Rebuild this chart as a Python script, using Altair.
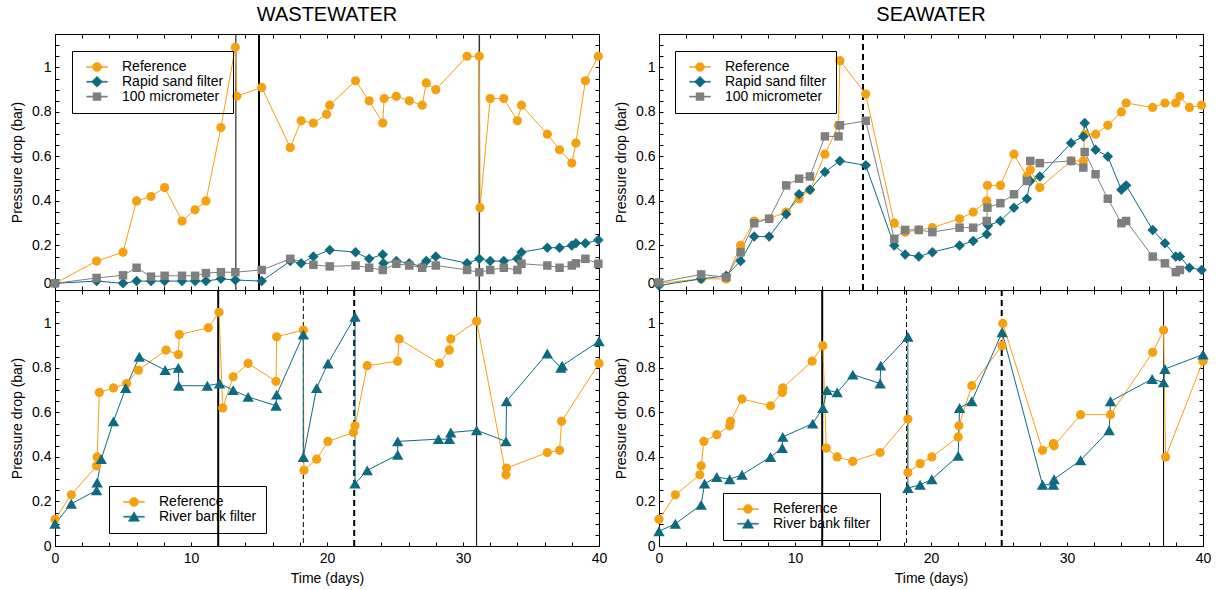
import altair as alt
import pandas as pd

# ---------------- data ----------------
# WASTEWATER - top panel
ww_top_ref_day = [0, 3.06, 5.0, 6.0, 7.06, 8.06, 9.34, 10.3, 11.1, 12.2, 13.26, 13.36, 15.2, 17.3, 18.1, 19.0, 19.97, 20.2, 22.1, 23.1,
                  24.1, 24.2, 25.1, 26.05, 27.0, 27.3, 28.0, 30.3, 31.2, 31.25, 32.0, 33.0, 34.0, 34.3, 36.2, 37.1, 38.0, 38.3, 39.0, 39.95]
ww_top_ref_val = [0.03, 0.13, 0.17, 0.40, 0.42, 0.46, 0.31, 0.36, 0.40, 0.73, 1.09, 0.87, 0.91, 0.64, 0.76, 0.75, 0.79, 0.83, 0.94, 0.85,
                  0.75, 0.86, 0.87, 0.85, 0.83, 0.93, 0.90, 1.05, 1.05, 0.37, 0.86, 0.86, 0.76, 0.83, 0.70, 0.63, 0.57, 0.66, 0.94, 1.05]
ww_top_rsf_day = [0, 3.06, 5.0, 6.0, 7.06, 8.06, 9.34, 10.3, 11.1, 12.2, 13.26, 15.2, 17.3, 18.1, 19.0, 20.2, 22.1, 23.1, 24.1, 24.15,
                  25.1, 26.05, 27.0, 27.3, 28.0, 30.3, 31.2, 32.0, 33.0, 34.0, 34.3, 36.2, 37.1, 38.0, 38.3, 39.0, 39.95]
ww_top_rsf_val = [0.03, 0.04, 0.03, 0.04, 0.04, 0.04, 0.04, 0.04, 0.04, 0.05, 0.045, 0.04, 0.13, 0.12, 0.15, 0.18, 0.17, 0.14, 0.16, 0.12,
                  0.13, 0.12, 0.105, 0.13, 0.15, 0.12, 0.14, 0.13, 0.13, 0.14, 0.17, 0.19, 0.19, 0.20, 0.21, 0.21, 0.225]
ww_top_um_day = [0, 3.06, 5.0, 6.0, 7.06, 8.06, 9.34, 10.3, 11.1, 12.2, 13.26, 15.2, 17.3, 19.0, 20.2, 22.1, 23.1, 24.1, 25.1, 26.05,
                 27.0, 28.0, 30.3, 31.2, 32.0, 33.0, 34.0, 34.3, 36.2, 37.1, 38.0, 38.3, 39.0, 39.95]
ww_top_um_val = [0.03, 0.054, 0.066, 0.10, 0.06, 0.064, 0.064, 0.064, 0.076, 0.08, 0.08, 0.09, 0.14, 0.113, 0.106, 0.11, 0.10, 0.09, 0.118, 0.11,
                 0.10, 0.11, 0.09, 0.08, 0.09, 0.10, 0.09, 0.118, 0.11, 0.10, 0.11, 0.12, 0.14, 0.118]
ww_top_events_thin = [13.3]
ww_top_events_thick = [15.0]
ww_top_events_mid = [31.2]

# SEAWATER - top panel
sw_top_ref_day = [0, 3.1, 4.94, 6.0, 7.0, 8.1, 9.35, 10.3, 11.1, 12.2, 13.2, 13.3, 15.2, 17.3, 18.1, 19.1, 20.1, 22.1, 23.1, 24.1,
                  24.15, 25.1, 26.1, 27.05, 27.3, 28.0, 30.3, 31.2, 31.3, 32.1, 33.0, 34.0, 34.35, 36.3, 37.2, 38.0, 38.3, 39.0, 39.9]
sw_top_ref_val = [0.03, 0.05, 0.05, 0.20, 0.31, 0.32, 0.35, 0.41, 0.45, 0.61, 0.74, 1.03, 0.88, 0.30, 0.26, 0.27, 0.28, 0.32, 0.35, 0.40,
                  0.47, 0.47, 0.61, 0.51, 0.54, 0.46, 0.58, 0.58, 0.70, 0.70, 0.74, 0.80, 0.84, 0.82, 0.84, 0.84, 0.87, 0.82, 0.83]
sw_top_rsf_day = [0, 3.1, 4.94, 6.0, 7.0, 8.1, 9.35, 10.3, 11.1, 12.2, 13.3, 15.2, 17.3, 18.1, 19.1, 20.1, 22.1, 23.1, 24.1, 24.2,
                  25.1, 26.1, 27.05, 27.3, 28.0, 30.3, 31.2, 31.3, 32.1, 33.0, 34.0, 34.35, 36.3, 37.2, 38.0, 38.3, 39.0, 39.9]
sw_top_rsf_val = [0.02, 0.05, 0.064, 0.13, 0.24, 0.24, 0.34, 0.43, 0.45, 0.53, 0.58, 0.56, 0.20, 0.16, 0.15, 0.17, 0.20, 0.22, 0.25, 0.29,
                  0.31, 0.37, 0.41, 0.49, 0.51, 0.66, 0.69, 0.75, 0.63, 0.60, 0.45, 0.47, 0.27, 0.21, 0.15, 0.15, 0.10, 0.09]
sw_top_um_day = [0, 3.1, 4.94, 6.0, 7.0, 8.1, 9.35, 10.3, 11.1, 12.2, 13.2, 13.3, 15.2, 17.3, 18.1, 19.1, 20.1, 22.1, 23.1, 24.1,
                 24.15, 25.1, 26.1, 27.05, 27.3, 28.0, 30.3, 31.2, 31.3, 32.1, 33.0, 34.0, 34.35, 36.3, 37.2, 38.0, 38.3]
sw_top_um_val = [0.034, 0.07, 0.057, 0.17, 0.30, 0.32, 0.47, 0.50, 0.51, 0.69, 0.69, 0.74, 0.76, 0.23, 0.27, 0.27, 0.26, 0.28, 0.28, 0.31,
                 0.37, 0.39, 0.43, 0.49, 0.58, 0.57, 0.58, 0.55, 0.62, 0.52, 0.41, 0.30, 0.31, 0.15, 0.12, 0.08, 0.09]
sw_top_events_thick_dashed = [15.0]

# WASTEWATER - bottom panel
ww_bot_ref_day = [0, 1.2, 3.06, 3.1, 3.26, 4.3, 5.27, 6.13, 8.16, 9.07, 9.14, 11.27, 12.06, 12.33, 13.1, 14.2, 16.25, 16.3, 18.26, 18.3,
                  19.24, 20.07, 21.94, 22.06, 22.96, 25.2, 25.3, 28.26, 29.0, 29.1, 31.0, 33.16, 33.2, 36.2, 37.1, 37.25, 40.0]
ww_bot_ref_val = [0.12, 0.23, 0.36, 0.40, 0.69, 0.71, 0.73, 0.79, 0.88, 0.86, 0.95, 0.98, 1.05, 0.62, 0.76, 0.82, 0.74, 0.94, 0.97, 0.34,
                  0.39, 0.47, 0.51, 0.54, 0.81, 0.83, 0.93, 0.82, 0.88, 0.93, 1.01, 0.32, 0.35, 0.42, 0.43, 0.56, 0.82]
ww_bot_rbf_day = [0, 1.2, 3.06, 3.1, 3.4, 4.3, 5.2, 6.2, 8.1, 9.07, 9.1, 11.2, 12.1, 13.1, 14.2, 16.25, 16.3, 18.26, 18.26, 19.24,
                  20.07, 22.06, 22.06, 22.96, 25.2, 25.2, 28.2, 29.0, 29.1, 31.0, 33.16, 33.2, 36.2, 37.2, 37.3, 40.0]
ww_bot_rbf_val = [0.10, 0.19, 0.25, 0.285, 0.39, 0.56, 0.71, 0.85, 0.79, 0.80, 0.72, 0.72, 0.73, 0.70, 0.67, 0.63, 0.68, 0.95, 0.40, 0.71,
                  0.82, 1.03, 0.28, 0.34, 0.41, 0.47, 0.48, 0.48, 0.51, 0.52, 0.47, 0.65, 0.865, 0.80, 0.81, 0.92]
ww_bot_events_thick = [12.0]
ww_bot_events_thin_dashed = [18.26]
ww_bot_events_thick_dashed = [22.0]
ww_bot_events_thin = [31.0]

# SEAWATER - bottom panel
sw_bot_ref_day = [0, 1.2, 3.0, 3.1, 3.3, 4.25, 5.2, 5.26, 6.1, 8.2, 9.06, 9.1, 11.26, 12.05, 12.3, 13.1, 14.25, 16.26, 18.3, 18.3,
                  19.2, 20.06, 22.0, 22.05, 23.0, 25.23, 25.28, 28.2, 29.0, 29.05, 31.0, 33.2, 36.3, 37.1, 37.25, 40.0]
sw_bot_ref_val = [0.12, 0.23, 0.32, 0.36, 0.47, 0.50, 0.54, 0.56, 0.66, 0.63, 0.69, 0.71, 0.83, 0.90, 0.44, 0.40, 0.38, 0.42, 0.57, 0.33,
                  0.37, 0.40, 0.49, 0.54, 0.72, 0.90, 1.00, 0.43, 0.46, 0.45, 0.59, 0.59, 0.87, 0.97, 0.40, 0.83]
sw_bot_rbf_day = [0, 1.2, 3.1, 3.35, 4.25, 5.2, 6.1, 8.2, 9.06, 9.1, 11.3, 12.05, 12.35, 13.1, 14.25, 16.26, 16.3, 18.3, 18.3, 19.2,
                  20.06, 22.0, 22.1, 23.0, 25.23, 28.2, 29.0, 29.05, 31.0, 33.1, 33.2, 36.26, 37.1, 37.2, 40.0]
sw_bot_rbf_val = [0.066, 0.10, 0.185, 0.28, 0.31, 0.30, 0.32, 0.40, 0.44, 0.49, 0.55, 0.62, 0.70, 0.69, 0.77, 0.73, 0.81, 0.94, 0.26, 0.275,
                  0.30, 0.405, 0.62, 0.65, 0.96, 0.275, 0.275, 0.30, 0.385, 0.52, 0.65, 0.75, 0.735, 0.795, 0.86]
sw_bot_events_thick = [12.0]
sw_bot_events_thin_dashed = [18.2]
sw_bot_events_thick_dashed = [25.2]
sw_bot_events_thin = [37.1]

x_ticks = list(range(0, 41, 2))
y_ticks = [round(i * 0.05, 2) for i in range(24)]

# ---------------- styling ----------------
FONT = "Liberation Sans"
ORANGE = "#F5A00F"
TEAL = "#0E6A80"
GRAY = "#7F7F7F"
COLORS = {"Reference": ORANGE, "Rapid sand filter": TEAL, "100 micrometer": GRAY, "River bank filter": TEAL}
SHAPES = {"Reference": "circle", "Rapid sand filter": "diamond", "100 micrometer": "square", "River bank filter": "triangle-up"}
SIZES = {"Reference": 85, "Rapid sand filter": 110, "100 micrometer": 72, "River bank filter": 130}
# legend glyphs: a thin horizontal bar (the line) plus the marker, all wound clockwise
BAR = "M-2.3,-0.12L2.3,-0.12L2.3,0.12L-2.3,0.12Z"
LEG_PATHS = {
    "Reference": BAR + "M1,0A1,1,0,1,1,-1,0A1,1,0,1,1,1,0Z",
    "Rapid sand filter": BAR + "M0,-1.22L1.22,0L0,1.22L-1.22,0Z",
    "100 micrometer": BAR + "M-0.88,-0.88L0.88,-0.88L0.88,0.88L-0.88,0.88Z",
    "River bank filter": BAR + "M0,-1.1L1.25,1.0L-1.25,1.0Z",
}
TICK = {"expr": "-4"}
W, H = 544, 256


def ternary(names, mapping):
    expr = "'" + mapping[names[-1]] + "'"
    for n in reversed(names[:-1]):
        expr = "datum.value === '" + n + "' ? '" + mapping[n] + "' : (" + expr + ")"
    return expr


def x_axis_main(labels):
    kw = dict(orient="bottom", values=x_ticks, tickSize=TICK, tickColor="black", tickWidth=1,
              domain=False, grid=False, labels=labels)
    if labels:
        kw.update(labelExpr="datum.value % 10 === 0 ? format(datum.value, 'd') : ''",
                  labelPadding=9, labelFont=FONT, labelFontSize=14, labelColor="black",
                  labelFlush=False, labelOverlap=False,
                  title="Time (days)", titleFont=FONT, titleFontSize=14,
                  titleFontWeight="normal", titleColor="black", titlePadding=6)
    else:
        kw.update(title=None)
    return alt.Axis(**kw)


def y_axis_main(flush):
    return alt.Axis(orient="left", values=y_ticks, tickSize=TICK, tickColor="black", tickWidth=1,
                    domain=False, grid=False,
                    labelExpr="abs(datum.value*5 - round(datum.value*5)) < 1e-6 ? format(datum.value, '.1~f') : ''",
                    labelPadding=8, labelFont=FONT, labelFontSize=14, labelColor="black",
                    labelFlush=flush, labelOverlap=False,
                    title="Pressure drop (bar)", titleFont=FONT, titleFontSize=14,
                    titleFontWeight="normal", titleColor="black", titlePadding=7)


x_axis_top = alt.Axis(orient="top", values=x_ticks, tickSize=TICK, tickColor="black", domain=False,
                      grid=False, labels=False, title=None)
y_axis_right = alt.Axis(orient="right", values=y_ticks, tickSize=TICK, tickColor="black", domain=False,
                        grid=False, labels=False, title=None)

X_SCALE = alt.Scale(domain=[0, 40], nice=False, zero=False)
Y_SCALE = alt.Scale(domain=[0, 1.15], nice=False, zero=False)


def panel(series, events, legend_xy, bottom, title=None):
    frames = []
    for name, d, v in series:
        frames.append(pd.DataFrame({"day": d, "value": v, "series": name, "i": list(range(len(d)))}))
    df = pd.concat(frames, ignore_index=True)
    names = [s[0] for s in series]

    col_expr = ternary(names, COLORS)
    shape_expr = ternary(names, LEG_PATHS)
    legend = alt.Legend(orient="none", legendX=legend_xy[0], legendY=legend_xy[1], title=None,
                        direction="vertical", strokeColor="black", padding=9,
                        labelFont=FONT, labelFontSize=14, labelColor="black",
                        symbolSize=81, symbolOffset=9, labelOffset=18, rowPadding=0.8,
                        symbolType={"expr": shape_expr},
                        symbolFillColor={"expr": col_expr},
                        symbolStrokeColor={"expr": col_expr},
                        symbolStrokeWidth=0.5, symbolOpacity=1)
    color = alt.Color("series:N", scale=alt.Scale(domain=names, range=[COLORS[n] for n in names]), legend=legend)

    base = alt.Chart(df)
    lines = base.mark_line(strokeWidth=1).encode(
        x=alt.X("day:Q", scale=X_SCALE, axis=x_axis_main(bottom)),
        y=alt.Y("value:Q", scale=Y_SCALE, axis=y_axis_main(not bottom)),
        color=color,
        order=alt.Order("i:Q"),
    )

    point_layers = []
    for k, n in enumerate(names):
        axis_x = x_axis_top if k == 0 else None
        axis_y = y_axis_right if k == 0 else None
        point_layers.append(
            base.transform_filter(alt.datum.series == n)
            .mark_point(filled=True, opacity=1, shape=SHAPES[n], size=SIZES[n])
            .encode(
                x=alt.X("day:Q", scale=X_SCALE, axis=axis_x),
                y=alt.Y("value:Q", scale=Y_SCALE, axis=axis_y),
                color=color,
            )
        )

    rule_layers = []
    for days, width, dash, colr in events:
        ev = pd.DataFrame({"day": days})
        kw = dict(color=colr, strokeWidth=width)
        if dash:
            kw["strokeDash"] = dash
        rule_layers.append(alt.Chart(ev).mark_rule(**kw).encode(
            x=alt.X("day:Q", scale=X_SCALE, axis=None)))

    ch = alt.layer(*rule_layers, lines, *point_layers).resolve_axis(x="independent", y="independent")
    props = dict(width=W, height=H)
    if title:
        props["title"] = alt.TitleParams(title, font=FONT, fontSize=20, fontWeight="normal", color="black",
                                         anchor="middle", frame="group", offset=8)
    return ch.properties(**props)


tl = panel([("Reference", ww_top_ref_day, ww_top_ref_val),
            ("Rapid sand filter", ww_top_rsf_day, ww_top_rsf_val),
            ("100 micrometer", ww_top_um_day, ww_top_um_val)],
           [(ww_top_events_thin, 1, None, "black"),
            (ww_top_events_thick, 2, None, "black"),
            (ww_top_events_mid, 1.5, None, "#333333")],
           (17, 17), False, "WASTEWATER")
tr = panel([("Reference", sw_top_ref_day, sw_top_ref_val),
            ("Rapid sand filter", sw_top_rsf_day, sw_top_rsf_val),
            ("100 micrometer", sw_top_um_day, sw_top_um_val)],
           [(sw_top_events_thick_dashed, 2, [6, 4], "black")],
           (16, 17), False, "SEAWATER")
bl = panel([("Reference", ww_bot_ref_day, ww_bot_ref_val),
            ("River bank filter", ww_bot_rbf_day, ww_bot_rbf_val)],
           [(ww_bot_events_thick, 2, None, "black"),
            (ww_bot_events_thin_dashed, 1, [5, 3], "black"),
            (ww_bot_events_thick_dashed, 2, [6, 4], "black"),
            (ww_bot_events_thin, 1, None, "black")],
           (54, 196), True)
br = panel([("Reference", sw_bot_ref_day, sw_bot_ref_val),
            ("River bank filter", sw_bot_rbf_day, sw_bot_rbf_val)],
           [(sw_bot_events_thick, 2, None, "black"),
            (sw_bot_events_thin_dashed, 1, [5, 3], "black"),
            (sw_bot_events_thick_dashed, 2, [6, 4], "black"),
            (sw_bot_events_thin, 1, None, "black")],
           (64, 203), True)

chart = alt.concat(tl, tr, bl, br, columns=2,
                   spacing=alt.RowColnumber(row=0, column=60),
                   bounds="flush").resolve_scale(
    color="independent"
).properties(
    padding={"left": 10, "top": 4, "right": 5, "bottom": 2},
    background="white",
).configure_view(stroke="black", strokeWidth=1)

chart.save("out.html", embed_options={"renderer": "svg", "actions": False})
